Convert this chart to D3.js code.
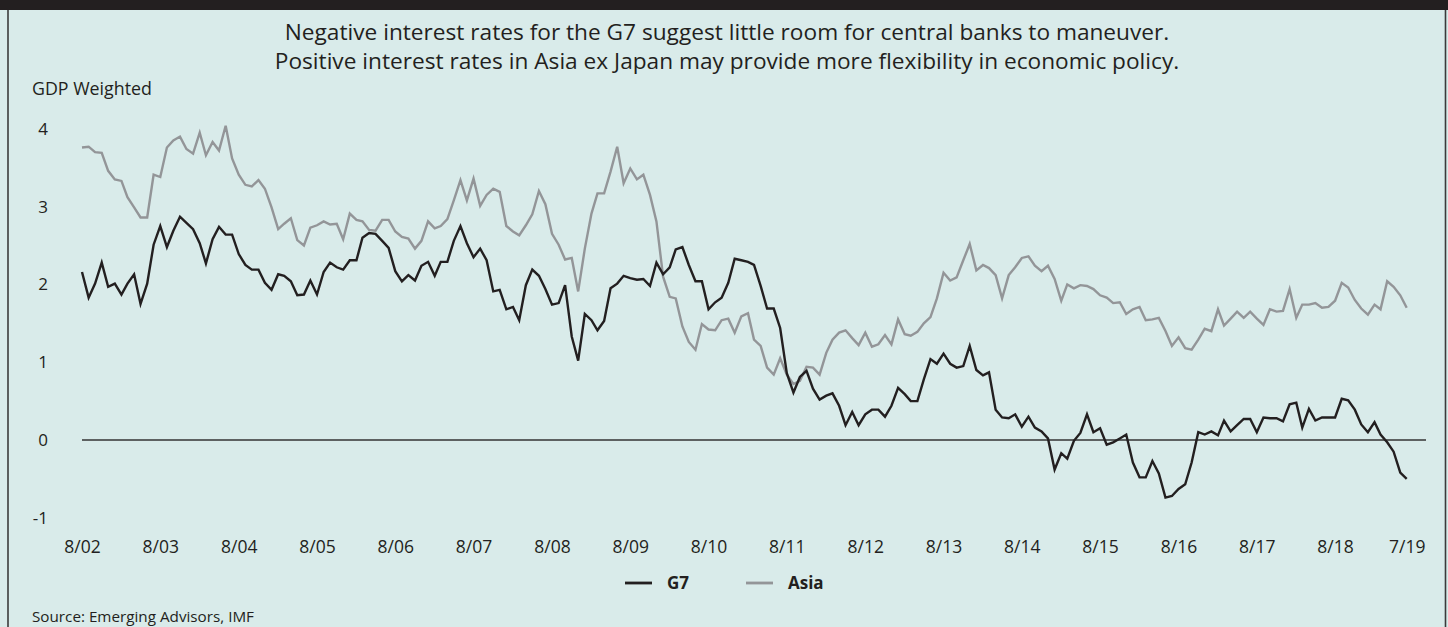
<!DOCTYPE html>
<html><head><meta charset="utf-8">
<script src="https://cdn.jsdelivr.net/npm/d3@7"></script>
<style>
html,body{margin:0;padding:0;background:#d9ebea;}
svg{display:block;font-family:"Open Sans",sans-serif;}
</style>
</head><body>
<svg id="chart" width="1448" height="627"></svg>
<script>
// ---------------- data ----------------
const startMonth = "2002-08";
const endMonth = "2019-07";
const seriesNames = ["G7", "Asia"];
const g7Values = [
  2.16,1.83,2.01,2.28,1.97,2.01,1.87,2.01,2.13,1.75,2.01,2.51,2.75,2.48,2.69,2.87,2.79,2.71,2.53,2.27,
  2.58,2.74,2.64,2.64,2.39,2.25,2.19,2.19,2.02,1.93,2.13,2.11,2.04,1.86,1.87,2.05,1.87,
  2.16,2.28,2.22,2.19,2.31,2.31,2.60,2.66,2.65,2.56,2.47,2.17,2.04,2.12,2.05,2.24,2.29,2.11,2.29,2.29,
  2.56,2.75,2.53,2.35,2.46,2.31,1.91,1.93,1.68,1.71,1.54,1.99,2.19,2.11,1.94,
  1.74,1.76,1.99,1.33,1.02,1.62,1.54,1.41,1.53,1.95,2.01,2.11,2.08,2.06,2.07,1.98,2.28,2.13,2.22,2.45,
  2.48,2.25,2.04,2.04,1.68,1.77,1.83,2.02,2.33,2.31,2.29,2.25,1.98,1.69,1.69,1.44,
  0.86,0.61,0.81,0.89,0.66,0.52,0.57,0.60,0.44,0.19,0.36,0.19,0.33,0.39,0.39,0.30,0.44,0.67,0.59,0.50,
  0.50,0.78,1.04,0.98,1.11,0.98,0.93,0.95,1.21,0.90,0.83,0.87,0.39,0.29,0.28,
  0.33,0.17,0.30,0.16,0.11,0.02,-0.38,-0.17,-0.24,-0.01,0.09,0.33,0.10,0.15,-0.06,-0.03,0.02,0.07,
  -0.29,-0.48,-0.48,-0.27,-0.43,-0.74,-0.72,-0.63,-0.57,-0.29,0.10,
  0.07,0.11,0.06,0.25,0.11,0.19,0.27,0.27,0.10,0.29,0.28,0.28,0.24,0.46,0.48,0.16,0.40,0.25,0.29,0.29,
  0.29,0.53,0.51,0.39,0.20,0.10,0.23,0.07,-0.03,-0.15,-0.42,-0.50
];
const asiaValues = [
  3.76,3.77,3.70,3.69,3.46,3.35,3.33,3.12,2.99,2.86,2.86,3.41,3.38,3.76,3.85,3.90,3.74,3.68,3.95,3.66,
  3.83,3.72,4.04,3.62,3.41,3.28,3.26,3.34,3.23,2.99,2.71,2.78,2.85,2.57,2.50,2.73,2.76,
  2.81,2.77,2.78,2.58,2.91,2.83,2.81,2.70,2.69,2.83,2.83,2.68,2.61,2.59,2.46,2.56,2.81,2.72,2.75,2.84,
  3.08,3.34,3.08,3.36,3.01,3.15,3.23,3.19,2.75,2.68,2.63,2.76,2.90,3.20,3.03,
  2.65,2.51,2.32,2.34,1.91,2.46,2.91,3.17,3.17,3.45,3.77,3.30,3.49,3.35,3.41,3.15,2.81,2.10,1.84,1.82,
  1.46,1.26,1.16,1.49,1.42,1.41,1.54,1.56,1.38,1.59,1.63,1.29,1.21,0.93,0.84,1.05,
  0.84,0.72,0.76,0.94,0.93,0.84,1.12,1.29,1.38,1.41,1.31,1.22,1.38,1.20,1.23,1.35,1.23,1.55,1.36,1.34,
  1.39,1.50,1.58,1.82,2.15,2.05,2.09,2.31,2.52,2.18,2.25,2.21,2.12,1.82,2.12,
  2.22,2.34,2.36,2.24,2.17,2.24,2.07,1.79,2.00,1.95,1.99,1.98,1.94,1.86,1.83,1.76,1.77,1.62,1.68,1.71,
  1.54,1.55,1.57,1.40,1.21,1.32,1.18,1.16,1.29,
  1.43,1.40,1.68,1.47,1.56,1.65,1.57,1.65,1.56,1.48,1.68,1.65,1.66,1.94,1.57,1.74,1.74,1.76,1.70,1.71,
  1.79,2.02,1.96,1.80,1.69,1.61,1.74,1.68,2.04,1.97,1.86,1.70
];
const xTickLabels = ["8/02","8/03","8/04","8/05","8/06","8/07","8/08","8/09","8/10","8/11","8/12","8/13","8/14","8/15","8/16","8/17","8/18","7/19"];
const yTickValues = [-1, 0, 1, 2, 3, 4];
const titleLines = [
  "Negative interest rates for the G7 suggest little room for central banks to maneuver.",
  "Positive interest rates in Asia ex Japan may provide more flexibility in economic policy."
];
const yAxisTitle = "GDP Weighted";
const sourceText = "Source: Emerging Advisors, IMF";

// ---------------- drawing ----------------
const W = 1448, H = 627;
const ink = "#231f20";
const svg = d3.select("#chart");

svg.append("rect").attr("x",0).attr("y",0).attr("width",W).attr("height",H).attr("fill","#d9ebea");
svg.append("rect").attr("x",0).attr("y",0).attr("width",W).attr("height",10).attr("fill",ink);
svg.append("line").attr("x1",8).attr("x2",8).attr("y1",10).attr("y2",H).attr("stroke","#3b3b3b").attr("stroke-width",1.6);
svg.append("line").attr("x1",1445.5).attr("x2",1445.5).attr("y1",10).attr("y2",H).attr("stroke","#3b3b3b").attr("stroke-width",1.6);

const parseM = d3.timeParse("%Y-%m");
const parseTick = d3.timeParse("%m/%y");
const t0 = parseM(startMonth), t1 = parseM(endMonth);

const x = d3.scaleTime().domain([t0, t1]).range([82, 1406.7]);
const y = d3.scaleLinear().domain([-1, 4]).range([517.8, 128.8]);

function fit(sel, target) {
  const w = sel.node().getComputedTextLength();
  const fs = parseFloat(sel.attr("font-size"));
  sel.attr("font-size", (fs * target / w).toFixed(2));
}

// title
const titleTargets = [885, 905];
const titleBase = [40, 69];
titleLines.forEach((t, i) => {
  const s = svg.append("text").attr("x", 727).attr("y", titleBase[i]).attr("text-anchor","middle")
    .attr("font-size", 21).attr("fill", ink).text(t);
  fit(s, titleTargets[i]);
});

const gw = svg.append("text").attr("x", 32).attr("y", 95).attr("font-size", 17).attr("fill", ink).text(yAxisTitle);
fit(gw, 120);

// zero line
svg.append("line").attr("x1", 82).attr("x2", 1426).attr("y1", y(0)).attr("y2", y(0))
  .attr("stroke", "#333").attr("stroke-width", 1.3);

// y axis
const yAxis = svg.append("g").attr("transform", "translate(48,0)")
  .call(d3.axisLeft(y).tickValues(yTickValues).tickSize(0).tickPadding(0).tickFormat(d => String(d)));
yAxis.select(".domain").remove();
yAxis.selectAll("text").attr("font-size", 17).attr("font-family", '"Open Sans",sans-serif').attr("fill", ink);

// x axis
const tickDates = xTickLabels.map(l => parseTick(l));
const xAxis = svg.append("g").attr("transform", "translate(0,541)")
  .call(d3.axisBottom(x).tickValues(tickDates).tickSize(0).tickPadding(0)
    .tickFormat((d, i) => xTickLabels[i]));
xAxis.select(".domain").remove();
xAxis.selectAll("text").attr("font-size", 17.5).attr("font-family", '"Open Sans",sans-serif').attr("fill", ink);

// series
const mk = vals => vals.map((v, i) => ({ date: d3.timeMonth.offset(t0, i), v }));
const line = d3.line().x(d => x(d.date)).y(d => y(d.v));
const colors = { "G7": ink, "Asia": "#939598" };

svg.append("path").datum(mk(asiaValues)).attr("d", line).attr("fill","none")
  .attr("stroke", colors.Asia).attr("stroke-width", 2.4).attr("stroke-linejoin","miter");
svg.append("path").datum(mk(g7Values)).attr("d", line).attr("fill","none")
  .attr("stroke", colors.G7).attr("stroke-width", 2.4).attr("stroke-linejoin","miter");

// legend
const legendX = [625, 746];
seriesNames.forEach((n, i) => {
  svg.append("line").attr("x1", legendX[i]).attr("x2", legendX[i] + 27).attr("y1", 583).attr("y2", 583)
    .attr("stroke", colors[n]).attr("stroke-width", 2.8);
  svg.append("text").attr("x", legendX[i] + 42).attr("y", 589).attr("font-size", 17)
    .attr("font-weight", "bold").attr("fill", ink).text(n);
});

// source
const src = svg.append("text").attr("x", 32).attr("y", 622).attr("font-size", 13).attr("fill", ink).text(sourceText);
fit(src, 222);
</script>
</body></html>
